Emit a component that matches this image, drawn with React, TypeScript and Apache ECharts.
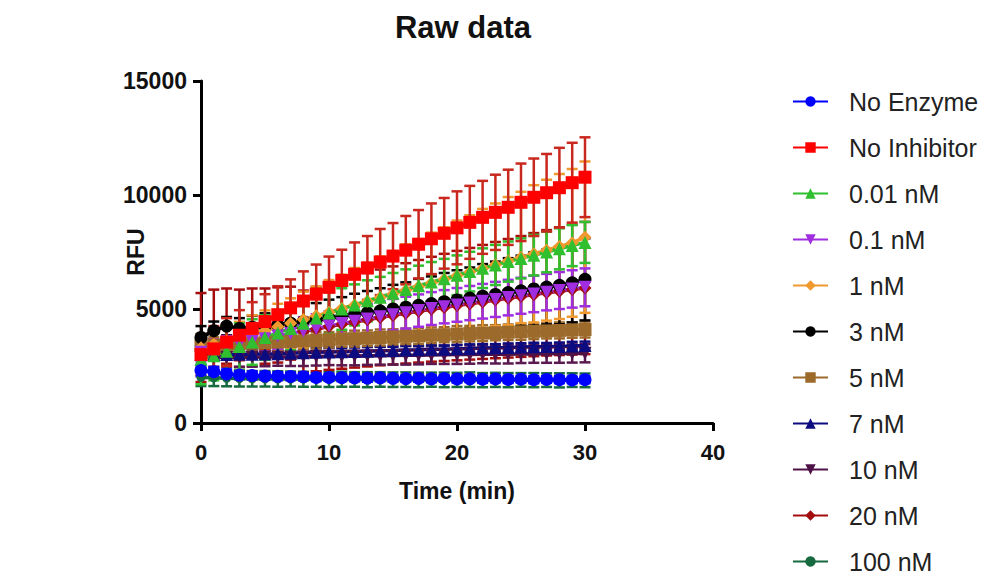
import React, { useEffect, useRef } from "react";
import * as echarts from "echarts";

const timeMin = [0,1,2,3,4,5,6,7,8,9,10,11,12,13,14,15,16,17,18,19,20,21,22,23,24,25,26,27,28,29,30];

const seriesNames = ["No Enzyme","No Inhibitor","0.01 nM","0.1 nM","1 nM","3 nM","5 nM","7 nM","10 nM","20 nM","100 nM"];
const seriesColors = ["#0000ff","#ff0000","#2fbf2f","#a02ee0","#f0992f","#000000","#9c6a2b","#0c0c80","#4e1249","#a30d0d","#17693f"];
const errColors = ["#0000ff","#c8281e","#2fbf2f","#a02ee0","#f0992f","#000000","#9c6a2b","#0c0c80","#5a1a50","#a30d0d","#17693f"];
const seriesSymbols = ["circle","rect","triangle","triangle","diamond","circle","rect","triangle","triangle","diamond","circle"];
const seriesRotate = [0,0,0,180,0,0,0,0,180,0,0];

const noEnzyme = [2300,2250,2150,2100,2080,2060,2050,2040,2030,2000,2000,1990,1980,1970,1980,1960,1950,1960,1940,1950,1930,1940,1920,1930,1910,1920,1900,1910,1900,1890,1900];
const noEnzymeErr = [250,200,200,180,180,170,170,160,160,160,150,150,150,160,150,150,140,150,150,140,150,140,150,140,150,140,150,140,150,140,150];

const noInhibitor = [3000,3250,3550,3850,4150,4450,4750,5050,5350,5650,5950,6250,6520,6800,7060,7320,7580,7840,8080,8320,8560,8800,9020,9240,9460,9680,9900,10100,10320,10540,10780];
const noInhibitorErr = [900,1000,1050,1100,1150,1200,1250,1250,1300,1300,1350,1350,1400,1400,1450,1450,1500,1500,1550,1550,1600,1600,1600,1650,1650,1700,1700,1700,1750,1750,1750];

const nM001 = [2800,2950,3150,3350,3550,3750,3950,4150,4380,4600,4820,5000,5180,5360,5520,5690,5860,6020,6180,6330,6480,6640,6790,6930,7080,7220,7360,7500,7640,7780,7920];
const nM001Err = [1100,1080,1050,1020,1000,980,960,950,940,930,920,910,900,900,890,890,880,880,880,870,870,870,870,880,880,880,890,890,900,900,900];

const nM01 = [3100,3220,3340,3460,3580,3700,3820,3930,4040,4150,4260,4360,4460,4560,4660,4750,4840,4930,5020,5100,5180,5260,5340,5420,5500,5580,5660,5740,5810,5880,5950];
const nM01Err = [400,450,480,500,520,540,560,580,600,620,640,650,660,670,680,690,700,710,720,730,740,750,760,770,780,790,800,800,810,820,830];

const nM1 = [3300,3450,3600,3750,3900,4050,4220,4380,4540,4700,4860,5020,5180,5340,5500,5660,5820,5980,6140,6300,6460,6620,6780,6940,7100,7260,7420,7580,7740,7900,8150];
const nM1Err = [400,480,610,690,820,890,1010,1090,1220,1290,1410,1490,1620,1690,1810,1880,2020,2090,2210,2280,2420,2490,2610,2690,2810,2880,3010,3090,3180,3240,3320];

const nM3 = [3750,4050,4250,4150,4200,4250,4300,4380,4450,4520,4600,4680,4760,4840,4920,5000,5080,5160,5240,5320,5400,5480,5560,5640,5720,5800,5880,5960,6040,6150,6300];
const nM3Err = [500,400,400,450,500,560,590,660,700,740,810,840,910,950,990,1060,1090,1160,1190,1260,1300,1340,1410,1440,1510,1540,1610,1640,1710,1740,1800];

const nM5 = [3400,3420,3450,3480,3500,3520,3550,3580,3600,3620,3650,3680,3700,3720,3750,3780,3800,3820,3850,3870,3900,3920,3940,3960,3980,4000,4020,4040,4060,4080,4100];
const nM5Err = [350,340,350,330,350,340,350,330,340,350,340,330,350,340,350,330,340,350,340,330,350,340,350,330,340,350,340,330,350,340,350];

const nM7 = [3000,3000,3000,3010,3020,3030,3040,3060,3080,3100,3110,3120,3140,3150,3170,3180,3200,3210,3230,3240,3260,3270,3290,3300,3310,3330,3340,3350,3360,3380,3400];
const nM7Err = [180,170,180,160,170,180,170,160,180,170,180,160,170,180,170,160,180,170,180,160,170,180,170,160,180,170,180,160,170,180,170];

const nM10 = [2900,2880,2870,2870,2880,2890,2900,2900,2910,2920,2930,2930,2940,2950,2950,2960,2970,2970,2980,2990,3000,3000,3010,3010,3020,3030,3030,3040,3050,3050,3060];
const nM10Err = [420,410,400,400,410,400,390,400,410,400,390,400,410,400,390,400,410,400,390,400,410,400,390,400,410,400,390,400,410,400,400];

const nM20 = [3750,4050,4250,4150,4200,4250,4300,4380,4010,4120,4230,4330,4430,4530,4630,4720,4810,4900,4990,5070,5150,5230,5310,5390,5470,5550,5630,5710,5780,5850,5920];
const nM20Err = [1950,1800,1650,1700,1700,1650,1650,1600,1800,1850,1900,1950,2000,2050,2100,2150,2200,2250,2300,2350,2400,2450,2500,2550,2600,2650,2700,2750,2800,2850,2900];

const nM100 = [2000,1980,1960,1950,1940,1940,1930,1930,1920,1920,1910,1920,1910,1900,1910,1900,1900,1890,1900,1890,1890,1900,1880,1890,1880,1890,1880,1880,1870,1880,1870];
const nM100Err = [380,360,350,350,340,340,340,330,330,330,330,330,320,330,320,320,320,320,310,320,310,320,310,310,310,300,310,300,310,300,300];

const yTicks = { min: 0, max: 15000, interval: 5000 };
const xTicks = { min: 0, max: 40, interval: 10 };

const allMeans = [noEnzyme, noInhibitor, nM001, nM01, nM1, nM3, nM5, nM7, nM10, nM20, nM100];
const allErrs = [noEnzymeErr, noInhibitorErr, nM001Err, nM01Err, nM1Err, nM3Err, nM5Err, nM7Err, nM10Err, nM20Err, nM100Err];

const FONT = "'Liberation Sans', Arial, Helvetica, sans-serif";
const CHART_H = 640;

export default function App() {
  const ref = useRef<HTMLDivElement>(null);
  useEffect(() => {
    if (!ref.current) return;
    const chart = echarts.init(ref.current, null, { renderer: "svg" });
    const series: any[] = [];
    for (let i = seriesNames.length - 1; i >= 0; i--) {
      const color = seriesColors[i];
      const ecol = errColors[i];
      const means = allMeans[i];
      const errs = allErrs[i];
      series.push({
        type: "custom",
        name: seriesNames[i] + " error",
        data: timeMin.map((t, k) => [t, means[k], errs[k]]),
        encode: { x: 0, y: 1 },
        silent: true,
        renderItem: (params: any, api: any) => {
          const x = api.value(0);
          const m = api.value(1);
          const e = api.value(2);
          const top = api.coord([x, m + e]);
          const bot = api.coord([x, m - e]);
          const hw = 5.5;
          const style = { stroke: ecol, lineWidth: 2.5 };
          return {
            type: "group",
            children: [
              { type: "line", shape: { x1: top[0], y1: top[1], x2: bot[0], y2: bot[1] }, style },
              { type: "line", shape: { x1: top[0] - hw, y1: top[1], x2: top[0] + hw, y2: top[1] }, style },
              { type: "line", shape: { x1: bot[0] - hw, y1: bot[1], x2: bot[0] + hw, y2: bot[1] }, style },
            ],
          };
        },
      });
      series.push({
        type: "line",
        name: seriesNames[i],
        data: timeMin.map((t, k) => [t, means[k]]),
        symbol: seriesSymbols[i],
        symbolRotate: seriesRotate[i],
        symbolSize: i === 10 ? 9 : 13,
        showAllSymbol: true,
        lineStyle: { color, width: 3.5 },
        itemStyle: { color, borderWidth: 0 },
        emphasis: { disabled: true },
      });
    }
    chart.setOption({
      animation: false,
      backgroundColor: "#ffffff",
      title: {
        text: "Raw data",
        left: 458,
        top: 7,
        textAlign: "center",
        textStyle: { fontFamily: FONT, fontSize: 31, fontWeight: "bold", color: "#111" },
      },
      legend: {
        orient: "vertical",
        left: 792,
        top: 89,
        padding: 0,
        itemWidth: 35,
        itemHeight: 13,
        itemGap: 21,
        data: seriesNames,
        selectedMode: false,
        textStyle: { fontFamily: FONT, fontSize: 25, color: "#222", lineHeight: 25, padding: [0, 0, 0, 16] },
      },
      grid: { left: 201, right: 282, top: 81, bottom: CHART_H - 423, containLabel: false },
      xAxis: {
        type: "value",
        min: xTicks.min,
        max: xTicks.max,
        interval: xTicks.interval,
        name: "Time (min)",
        nameLocation: "middle",
        nameGap: 56,
        nameTextStyle: { fontFamily: FONT, fontSize: 23, fontWeight: "bold", color: "#111" },
        axisLine: { show: true, lineStyle: { color: "#000", width: 3 } },
        axisTick: { show: true, length: 8, lineStyle: { color: "#000", width: 3 } },
        axisLabel: { fontFamily: FONT, fontSize: 22, fontWeight: "bold", color: "#111", margin: 18 },
        splitLine: { show: false },
      },
      yAxis: {
        type: "value",
        min: yTicks.min,
        max: yTicks.max,
        interval: yTicks.interval,
        name: "RFU",
        nameLocation: "middle",
        nameGap: 54,
        nameRotate: 90,
        nameMoveOverlap: false,
        nameTextStyle: { fontFamily: FONT, fontSize: 23, fontWeight: "bold", color: "#111" },
        axisLine: { show: true, lineStyle: { color: "#000", width: 3 } },
        axisTick: { show: true, length: 8, lineStyle: { color: "#000", width: 3 } },
        axisLabel: {
          fontFamily: FONT, fontSize: 23, fontWeight: "bold", color: "#111", margin: 14,
          formatter: (v: number) => String(v),
        },
        splitLine: { show: false },
      },
      series,
    });
    return () => chart.dispose();
  }, []);
  return (
    <div style={{ position: "fixed", left: 0, top: 0, width: 995, height: 576, overflow: "hidden", background: "#fff" }}>
      <div ref={ref} style={{ width: 995, height: CHART_H }} />
    </div>
  );
}
